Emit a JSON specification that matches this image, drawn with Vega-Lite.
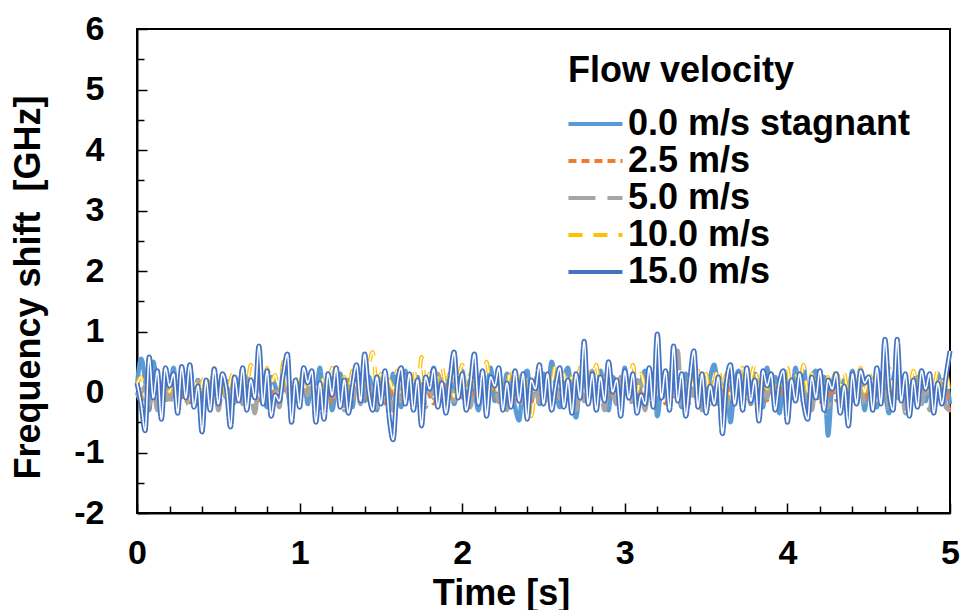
{
"$schema": "https://vega.github.io/schema/vega-lite/v6.json",
"width": 813, "height": 484,
"autosize": {"type": "none"},
"padding": {"left": 137, "top": 29, "right": 10, "bottom": 97},
"config": {
 "view": {"stroke": "black", "strokeWidth": 2},
 "font": "Liberation Sans",
 "axis": {"domainColor": "black", "domainWidth": 2, "tickColor": "black", "tickWidth": 1.5, "labelFont": "Liberation Sans", "labelFontSize": 34, "labelFontWeight": "bold", "labelColor": "black", "titleFont": "Liberation Sans", "titleFontSize": 36, "titleFontWeight": "bold", "titleColor": "black", "grid": false, "labelOverlap": false, "labelFlush": false},
 "legend": {"labelFont": "Liberation Sans", "titleFont": "Liberation Sans"}
},
"data": {"values": [
{"t":0,"a":0.1,"b":-0.05,"c":0.0,"d":0.12,"e":0.15},
{"t":0.025,"a":0.55,"b":0.05,"c":-0.15,"d":0.25,"e":-0.2},
{"t":0.05,"a":0.2,"b":-0.12,"c":0.1,"d":-0.1,"e":-0.64},
{"t":0.075,"a":-0.3,"b":-0.25,"c":-0.2,"d":0.3,"e":0.58},
{"t":0.1,"a":0.5,"b":0.02,"c":0.12,"d":0.05,"e":-0.1},
{"t":0.125,"a":0.1,"b":-0.15,"c":-0.3,"d":0.2,"e":0.35},
{"t":0.15,"a":-0.2,"b":0.08,"c":0.05,"d":-0.15,"e":-0.45},
{"t":0.175,"a":0.35,"b":-0.2,"c":0.2,"d":0.32,"e":0.4},
{"t":0.2,"a":0.05,"b":0.1,"c":-0.25,"d":0.0,"e":0.1},
{"t":0.225,"a":0.4,"b":-0.08,"c":0.1,"d":0.28,"e":0.3},
{"t":0.25,"a":-0.25,"b":0.12,"c":-0.1,"d":0.1,"e":-0.35},
{"t":0.275,"a":0.3,"b":-0.1,"c":0.25,"d":-0.05,"e":0.42},
{"t":0.3,"a":0.0,"b":0.05,"c":-0.2,"d":0.35,"e":-0.1},
{"t":0.325,"a":0.42,"b":-0.18,"c":0.15,"d":0.05,"e":0.45},
{"t":0.35,"a":-0.1,"b":0.0,"c":-0.05,"d":0.22,"e":-0.25},
{"t":0.375,"a":0.2,"b":-0.12,"c":0.18,"d":-0.12,"e":0.1},
{"t":0.4,"a":-0.3,"b":0.06,"c":-0.28,"d":0.15,"e":-0.66},
{"t":0.425,"a":0.15,"b":-0.05,"c":0.1,"d":0.3,"e":0.2},
{"t":0.45,"a":-0.05,"b":-0.2,"c":-0.15,"d":0.0,"e":-0.3},
{"t":0.475,"a":0.3,"b":0.1,"c":0.22,"d":0.4,"e":0.38},
{"t":0.5,"a":-0.15,"b":-0.08,"c":-0.3,"d":0.1,"e":-0.2},
{"t":0.525,"a":0.25,"b":0.04,"c":0.05,"d":0.28,"e":0.3},
{"t":0.55,"a":0.0,"b":-0.15,"c":-0.1,"d":-0.08,"e":0.05},
{"t":0.575,"a":-0.35,"b":0.0,"c":0.3,"d":0.2,"e":-0.58},
{"t":0.6,"a":0.2,"b":-0.1,"c":-0.18,"d":0.35,"e":0.25},
{"t":0.625,"a":0.05,"b":0.08,"c":0.12,"d":0.0,"e":-0.15},
{"t":0.65,"a":0.38,"b":-0.2,"c":-0.2,"d":0.25,"e":0.4},
{"t":0.675,"a":-0.2,"b":0.05,"c":0.25,"d":0.1,"e":-0.3},
{"t":0.7,"a":0.15,"b":-0.06,"c":0.0,"d":0.45,"e":0.2},
{"t":0.725,"a":-0.1,"b":0.1,"c":-0.35,"d":0.05,"e":-0.1},
{"t":0.75,"a":0.3,"b":-0.15,"c":0.15,"d":0.3,"e":0.76},
{"t":0.775,"a":0.0,"b":0.02,"c":-0.1,"d":-0.1,"e":-0.2},
{"t":0.8,"a":-0.25,"b":-0.1,"c":0.2,"d":0.4,"e":0.35},
{"t":0.825,"a":0.25,"b":0.08,"c":-0.15,"d":0.15,"e":-0.4},
{"t":0.85,"a":0.1,"b":-0.18,"c":0.1,"d":0.28,"e":-0.05},
{"t":0.875,"a":-0.15,"b":0.05,"c":-0.25,"d":-0.05,"e":-0.15},
{"t":0.9,"a":0.35,"b":-0.05,"c":0.22,"d":0.5,"e":0.3},
{"t":0.925,"a":0.05,"b":0.12,"c":0.0,"d":0.1,"e":0.63},
{"t":0.95,"a":-0.3,"b":-0.12,"c":-0.3,"d":0.25,"e":-0.5},
{"t":0.975,"a":0.2,"b":0.0,"c":0.15,"d":-0.1,"e":0.2},
{"t":1.0,"a":-0.05,"b":-0.2,"c":-0.1,"d":0.35,"e":-0.25},
{"t":1.025,"a":0.3,"b":0.08,"c":0.28,"d":0.15,"e":0.4},
{"t":1.05,"a":-0.2,"b":-0.08,"c":-0.05,"d":0.0,"e":0.15},
{"t":1.075,"a":0.15,"b":0.1,"c":0.2,"d":0.3,"e":0.35},
{"t":1.1,"a":0.0,"b":-0.15,"c":-0.25,"d":0.12,"e":-0.5},
{"t":1.125,"a":0.4,"b":0.05,"c":0.1,"d":-0.15,"e":0.15},
{"t":1.15,"a":-0.15,"b":-0.1,"c":-0.15,"d":0.28,"e":-0.45},
{"t":1.175,"a":0.25,"b":0.06,"c":0.3,"d":0.05,"e":0.3},
{"t":1.2,"a":-0.3,"b":-0.2,"c":0.0,"d":0.4,"e":-0.05},
{"t":1.225,"a":0.1,"b":0.0,"c":-0.2,"d":0.1,"e":0.4},
{"t":1.25,"a":0.3,"b":-0.12,"c":0.12,"d":-0.05,"e":-0.25},
{"t":1.275,"a":-0.1,"b":0.1,"c":-0.3,"d":0.25,"e":0.2},
{"t":1.3,"a":0.2,"b":-0.05,"c":0.2,"d":0.0,"e":-0.35},
{"t":1.325,"a":-0.25,"b":-0.18,"c":-0.1,"d":0.35,"e":0.1},
{"t":1.35,"a":0.35,"b":0.04,"c":0.15,"d":0.1,"e":0.45},
{"t":1.375,"a":0.05,"b":-0.1,"c":-0.2,"d":0.3,"e":-0.15},
{"t":1.4,"a":-0.15,"b":0.08,"c":0.25,"d":0.15,"e":0.63},
{"t":1.425,"a":0.25,"b":-0.15,"c":-0.05,"d":0.45,"e":0.0},
{"t":1.45,"a":0.0,"b":0.0,"c":0.1,"d":0.66,"e":-0.3},
{"t":1.475,"a":-0.3,"b":-0.12,"c":-0.25,"d":0.1,"e":0.25},
{"t":1.5,"a":0.2,"b":0.06,"c":0.2,"d":0.3,"e":-0.2},
{"t":1.525,"a":0.1,"b":-0.2,"c":-0.1,"d":-0.1,"e":0.35},
{"t":1.55,"a":-0.2,"b":0.1,"c":0.05,"d":0.2,"e":-0.4},
{"t":1.575,"a":0.3,"b":-0.05,"c":-0.3,"d":0.05,"e":-0.79},
{"t":1.6,"a":0.05,"b":-0.15,"c":0.15,"d":0.35,"e":0.1},
{"t":1.625,"a":-0.25,"b":0.05,"c":-0.15,"d":0.0,"e":0.4},
{"t":1.65,"a":0.35,"b":-0.1,"c":0.25,"d":0.25,"e":-0.2},
{"t":1.675,"a":0.0,"b":0.08,"c":-0.2,"d":0.1,"e":0.3},
{"t":1.7,"a":-0.1,"b":-0.18,"c":0.1,"d":0.4,"e":-0.3},
{"t":1.725,"a":0.25,"b":0.02,"c":-0.05,"d":-0.05,"e":0.2},
{"t":1.75,"a":-0.3,"b":-0.1,"c":0.2,"d":0.58,"e":-0.56},
{"t":1.775,"a":0.15,"b":0.1,"c":-0.25,"d":0.1,"e":0.25},
{"t":1.8,"a":0.05,"b":-0.08,"c":0.15,"d":0.3,"e":0.05},
{"t":1.825,"a":0.4,"b":-0.2,"c":-0.1,"d":0.0,"e":0.38},
{"t":1.85,"a":-0.15,"b":0.05,"c":0.3,"d":0.25,"e":-0.25},
{"t":1.875,"a":0.2,"b":-0.1,"c":0.0,"d":0.4,"e":0.15},
{"t":1.9,"a":-0.05,"b":0.1,"c":-0.3,"d":0.1,"e":-0.35},
{"t":1.925,"a":0.3,"b":-0.05,"c":0.1,"d":0.3,"e":0.2},
{"t":1.95,"a":-0.2,"b":-0.15,"c":-0.15,"d":-0.08,"e":0.66},
{"t":1.975,"a":0.1,"b":0.05,"c":0.25,"d":0.2,"e":-0.1},
{"t":2.0,"a":0.35,"b":-0.1,"c":-0.05,"d":0.45,"e":0.3},
{"t":2.025,"a":-0.1,"b":0.08,"c":0.15,"d":0.05,"e":-0.3},
{"t":2.05,"a":0.2,"b":-0.2,"c":-0.25,"d":0.3,"e":0.1},
{"t":2.075,"a":0.0,"b":0.0,"c":0.2,"d":0.0,"e":0.63},
{"t":2.1,"a":-0.3,"b":-0.1,"c":-0.1,"d":0.35,"e":-0.2},
{"t":2.125,"a":0.25,"b":0.06,"c":0.3,"d":0.15,"e":0.35},
{"t":2.15,"a":0.05,"b":-0.15,"c":-0.2,"d":0.5,"e":-0.4},
{"t":2.175,"a":0.4,"b":0.1,"c":0.05,"d":0.05,"e":0.25},
{"t":2.2,"a":-0.15,"b":-0.05,"c":0.2,"d":0.3,"e":0.1},
{"t":2.225,"a":0.15,"b":-0.18,"c":-0.15,"d":-0.1,"e":0.4},
{"t":2.25,"a":-0.05,"b":0.05,"c":0.1,"d":0.25,"e":-0.3},
{"t":2.275,"a":0.3,"b":-0.1,"c":-0.3,"d":0.1,"e":0.15},
{"t":2.3,"a":0.1,"b":0.08,"c":0.15,"d":0.4,"e":-0.25},
{"t":2.325,"a":-0.25,"b":-0.15,"c":-0.05,"d":0.0,"e":0.35},
{"t":2.35,"a":-0.47,"b":0.0,"c":0.25,"d":0.3,"e":-0.15},
{"t":2.375,"a":0.2,"b":-0.1,"c":-0.2,"d":-0.15,"e":0.3},
{"t":2.4,"a":0.35,"b":0.06,"c":0.1,"d":0.2,"e":-0.45},
{"t":2.425,"a":-0.1,"b":-0.2,"c":-0.1,"d":-0.4,"e":0.2},
{"t":2.45,"a":0.15,"b":0.05,"c":0.3,"d":0.1,"e":0.05},
{"t":2.475,"a":-0.2,"b":-0.08,"c":-0.25,"d":0.35,"e":0.45},
{"t":2.5,"a":0.3,"b":0.1,"c":0.05,"d":0.0,"e":-0.2},
{"t":2.525,"a":0.0,"b":-0.15,"c":0.2,"d":0.3,"e":0.3},
{"t":2.55,"a":0.5,"b":0.0,"c":-0.3,"d":0.15,"e":-0.3},
{"t":2.575,"a":0.1,"b":-0.1,"c":0.1,"d":0.45,"e":0.1},
{"t":2.6,"a":-0.25,"b":0.08,"c":-0.1,"d":0.05,"e":0.4},
{"t":2.625,"a":0.2,"b":-0.18,"c":0.25,"d":0.3,"e":-0.25},
{"t":2.65,"a":0.4,"b":0.05,"c":-0.05,"d":-0.1,"e":0.2},
{"t":2.675,"a":-0.1,"b":-0.05,"c":0.15,"d":0.25,"e":-0.35},
{"t":2.7,"a":-0.42,"b":0.1,"c":-0.3,"d":0.1,"e":0.3},
{"t":2.725,"a":0.15,"b":-0.12,"c":0.1,"d":0.4,"e":-0.1},
{"t":2.75,"a":0.3,"b":0.0,"c":-0.15,"d":0.0,"e":0.84},
{"t":2.775,"a":-0.05,"b":-0.15,"c":0.2,"d":0.3,"e":-0.2},
{"t":2.8,"a":0.2,"b":0.06,"c":0.35,"d":0.15,"e":0.3},
{"t":2.825,"a":-0.2,"b":-0.1,"c":-0.2,"d":0.45,"e":-0.3},
{"t":2.85,"a":0.35,"b":0.1,"c":0.1,"d":-0.05,"e":0.25},
{"t":2.875,"a":0.0,"b":-0.2,"c":-0.3,"d":0.2,"e":-0.15},
{"t":2.9,"a":-0.3,"b":0.0,"c":0.15,"d":0.35,"e":0.5},
{"t":2.925,"a":0.25,"b":-0.08,"c":0.0,"d":0.05,"e":0.0},
{"t":2.95,"a":0.1,"b":0.08,"c":-0.2,"d":0.3,"e":0.2},
{"t":2.975,"a":-0.15,"b":-0.15,"c":0.25,"d":-0.15,"e":-0.4},
{"t":3.0,"a":0.4,"b":0.05,"c":-0.1,"d":0.25,"e":0.35},
{"t":3.025,"a":-0.1,"b":-0.1,"c":0.15,"d":0.1,"e":-0.1},
{"t":3.05,"a":0.2,"b":0.1,"c":-0.25,"d":0.45,"e":0.3},
{"t":3.075,"a":-0.3,"b":-0.18,"c":0.2,"d":0.0,"e":-0.35},
{"t":3.1,"a":0.15,"b":0.0,"c":0.05,"d":0.3,"e":-0.05},
{"t":3.125,"a":0.35,"b":-0.1,"c":-0.3,"d":0.1,"e":-0.2},
{"t":3.15,"a":-0.05,"b":0.08,"c":0.2,"d":0.4,"e":0.4},
{"t":3.175,"a":0.25,"b":-0.15,"c":-0.1,"d":-0.1,"e":-0.25},
{"t":3.2,"a":-0.4,"b":0.05,"c":0.3,"d":0.2,"e":0.96},
{"t":3.225,"a":0.1,"b":-0.05,"c":-0.15,"d":0.35,"e":-0.1},
{"t":3.25,"a":0.3,"b":-0.2,"c":0.1,"d":0.0,"e":0.35},
{"t":3.275,"a":-0.15,"b":0.1,"c":0.4,"d":0.25,"e":-0.3},
{"t":3.3,"a":0.2,"b":-0.08,"c":0.1,"d":0.45,"e":0.76},
{"t":3.325,"a":0.05,"b":0.05,"c":0.68,"d":0.1,"e":-0.15},
{"t":3.35,"a":-0.25,"b":-0.15,"c":-0.2,"d":0.3,"e":0.3},
{"t":3.375,"a":0.3,"b":0.0,"c":0.15,"d":-0.15,"e":-0.4},
{"t":3.4,"a":0.0,"b":-0.1,"c":-0.25,"d":0.25,"e":0.2},
{"t":3.425,"a":0.35,"b":0.08,"c":0.05,"d":0.05,"e":0.68},
{"t":3.45,"a":-0.2,"b":-0.2,"c":0.2,"d":0.35,"e":-0.25},
{"t":3.475,"a":0.15,"b":0.0,"c":-0.3,"d":0.0,"e":0.3},
{"t":3.5,"a":-0.1,"b":-0.1,"c":0.1,"d":0.3,"e":-0.35},
{"t":3.525,"a":0.25,"b":0.1,"c":-0.1,"d":-0.2,"e":0.1},
{"t":3.55,"a":0.45,"b":-0.05,"c":0.2,"d":0.15,"e":-0.2},
{"t":3.575,"a":0.0,"b":-0.18,"c":-0.2,"d":0.4,"e":0.25},
{"t":3.6,"a":-0.3,"b":0.05,"c":0.1,"d":0.05,"e":-0.69},
{"t":3.625,"a":0.2,"b":-0.1,"c":-0.25,"d":0.3,"e":0.15},
{"t":3.65,"a":-0.5,"b":0.08,"c":0.15,"d":-0.05,"e":0.45},
{"t":3.675,"a":0.1,"b":-0.15,"c":-0.05,"d":0.25,"e":-0.2},
{"t":3.7,"a":0.35,"b":0.0,"c":0.25,"d":0.1,"e":0.3},
{"t":3.725,"a":-0.1,"b":-0.1,"c":-0.3,"d":0.4,"e":-0.3},
{"t":3.75,"a":0.2,"b":0.1,"c":0.1,"d":-0.1,"e":0.4},
{"t":3.775,"a":-0.2,"b":-0.2,"c":-0.15,"d":0.2,"e":-0.15},
{"t":3.8,"a":0.3,"b":0.05,"c":0.2,"d":0.45,"e":0.2},
{"t":3.825,"a":0.05,"b":-0.08,"c":-0.35,"d":0.0,"e":-0.48},
{"t":3.85,"a":-0.25,"b":0.08,"c":0.1,"d":0.3,"e":0.35},
{"t":3.875,"a":0.4,"b":-0.15,"c":-0.1,"d":0.05,"e":0.1},
{"t":3.9,"a":0.0,"b":0.0,"c":0.25,"d":0.35,"e":0.3},
{"t":3.925,"a":0.25,"b":-0.1,"c":-0.2,"d":-0.1,"e":-0.3},
{"t":3.95,"a":-0.35,"b":0.1,"c":0.05,"d":0.25,"e":0.15},
{"t":3.975,"a":0.15,"b":-0.05,"c":0.2,"d":0.1,"e":0.35},
{"t":4.0,"a":0.3,"b":-0.2,"c":-0.3,"d":0.4,"e":-0.5},
{"t":4.025,"a":-0.1,"b":0.05,"c":0.1,"d":-0.05,"e":0.2},
{"t":4.05,"a":0.4,"b":-0.1,"c":-0.1,"d":0.3,"e":-0.15},
{"t":4.075,"a":0.05,"b":0.1,"c":0.25,"d":0.1,"e":0.3},
{"t":4.1,"a":0.42,"b":-0.15,"c":-0.2,"d":0.45,"e":-0.2},
{"t":4.125,"a":-0.2,"b":0.0,"c":0.1,"d":0.0,"e":-0.45},
{"t":4.15,"a":0.2,"b":-0.08,"c":-0.3,"d":0.3,"e":0.25},
{"t":4.175,"a":0.35,"b":0.08,"c":0.15,"d":0.1,"e":-0.1},
{"t":4.2,"a":-0.1,"b":-0.2,"c":-0.1,"d":0.35,"e":0.35},
{"t":4.225,"a":0.25,"b":0.05,"c":0.2,"d":-0.1,"e":-0.3},
{"t":4.25,"a":-0.72,"b":-0.1,"c":-0.25,"d":0.25,"e":0.2},
{"t":4.275,"a":0.1,"b":0.1,"c":0.05,"d":0.05,"e":0.05},
{"t":4.3,"a":0.3,"b":-0.15,"c":0.3,"d":0.4,"e":0.3},
{"t":4.325,"a":-0.15,"b":0.0,"c":-0.2,"d":0.1,"e":-0.35},
{"t":4.35,"a":0.2,"b":-0.1,"c":0.1,"d":0.3,"e":0.1},
{"t":4.375,"a":0.0,"b":0.08,"c":-0.3,"d":-0.05,"e":-0.56},
{"t":4.4,"a":0.35,"b":-0.18,"c":0.2,"d":0.35,"e":0.3},
{"t":4.425,"a":-0.2,"b":0.05,"c":-0.05,"d":0.1,"e":-0.2},
{"t":4.45,"a":0.15,"b":-0.05,"c":0.25,"d":0.4,"e":0.35},
{"t":4.475,"a":-0.3,"b":-0.15,"c":-0.2,"d":0.0,"e":0.15},
{"t":4.5,"a":0.25,"b":0.1,"c":0.1,"d":0.3,"e":0.25},
{"t":4.525,"a":0.05,"b":-0.1,"c":-0.3,"d":0.15,"e":-0.3},
{"t":4.55,"a":-0.25,"b":0.0,"c":0.15,"d":-0.15,"e":0.4},
{"t":4.575,"a":0.3,"b":-0.2,"c":-0.1,"d":0.3,"e":-0.2},
{"t":4.6,"a":0.0,"b":0.05,"c":0.3,"d":0.1,"e":0.87},
{"t":4.625,"a":-0.35,"b":-0.1,"c":-0.25,"d":0.4,"e":0.0},
{"t":4.65,"a":0.2,"b":0.08,"c":0.1,"d":0.05,"e":-0.3},
{"t":4.675,"a":0.4,"b":-0.15,"c":-0.1,"d":0.3,"e":0.87},
{"t":4.7,"a":-0.1,"b":0.0,"c":0.2,"d":-0.1,"e":-0.15},
{"t":4.725,"a":0.15,"b":-0.1,"c":-0.35,"d":0.25,"e":0.3},
{"t":4.75,"a":-0.3,"b":0.1,"c":0.1,"d":0.0,"e":-0.4},
{"t":4.775,"a":0.25,"b":-0.05,"c":-0.15,"d":0.35,"e":0.2},
{"t":4.8,"a":0.05,"b":-0.2,"c":0.25,"d":0.1,"e":-0.25},
{"t":4.825,"a":0.35,"b":0.05,"c":-0.2,"d":0.4,"e":0.35},
{"t":4.85,"a":-0.15,"b":-0.1,"c":0.05,"d":-0.05,"e":0.05},
{"t":4.875,"a":0.2,"b":0.08,"c":-0.3,"d":0.25,"e":0.3},
{"t":4.9,"a":-0.25,"b":-0.15,"c":0.15,"d":0.1,"e":-0.35},
{"t":4.925,"a":0.3,"b":0.0,"c":-0.1,"d":0.35,"e":0.15},
{"t":4.95,"a":0.0,"b":-0.1,"c":0.2,"d":-0.15,"e":-0.2},
{"t":4.975,"a":0.15,"b":0.05,"c":-0.25,"d":0.3,"e":0.25},
{"t":5.0,"a":-0.2,"b":-0.4,"c":-0.3,"d":-0.1,"e":0.68}
]},
"transform": [{"fold": ["a", "b", "c", "d", "e"], "as": ["s", "v"]}],
"encoding": {
 "x": {"field": "t", "type": "quantitative", "scale": {"domain": [0, 5], "nice": false},
  "axis": {"title": "Time [s]", "values": [0,0.2,0.4,0.6,0.8,1,1.2,1.4,1.6,1.8,2,2.2,2.4,2.6,2.8,3,3.2,3.4,3.6,3.8,4,4.2,4.4,4.6,4.8,5],
   "labelExpr": "datum.value == round(datum.value) ? '' + datum.value : ''",
   "tickSize": {"condition": {"test": "datum.value == round(datum.value)", "value": -10}, "value": -7},
   "labelPadding": 33, "titleX": 364, "titleY": 91, "titleBaseline": "alphabetic", "titleAlign": "center"}},
 "y": {"field": "v", "type": "quantitative", "scale": {"domain": [-2, 6], "nice": false},
  "axis": {"title": "Frequency shift \u00a0[GHz]", "values": [-2,-1.5,-1,-0.5,0,0.5,1,1.5,2,2.5,3,3.5,4,4.5,5,5.5,6],
   "labelExpr": "datum.value == round(datum.value) ? '' + datum.value : ''",
   "tickSize": {"condition": {"test": "datum.value == round(datum.value)", "value": -10}, "value": -7},
   "labelPadding": 43, "titleX": -98, "titleY": 258, "titleBaseline": "alphabetic", "titleAlign": "center"}},
 "color": {"field": "s", "type": "nominal",
  "scale": {"domain": ["a", "b", "c", "d", "e"], "range": ["#5B9BD5", "#ED7D31", "#A5A5A5", "#FFC000", "#4472C4"]},
  "legend": {"title": "Flow velocity", "orient": "none", "legendX": 431, "legendY": 25,
   "labelExpr": "datum.value=='a'?'0.0 m/s stagnant':datum.value=='b'?'2.5 m/s':datum.value=='c'?'5.0 m/s':datum.value=='d'?'10.0 m/s':'15.0 m/s'",
   "titleFontSize": 36, "titleFontWeight": "bold", "titleColor": "black", "titleLimit": 500, "labelFontSize": 36, "labelFontWeight": "bold", "labelColor": "black", "labelLimit": 500,
   "symbolType": "M-1.3,0H2.7", "symbolSize": 729, "symbolStrokeWidth": 4, "labelOffset": 24, "titlePadding": 16, "rowPadding": 1}},
 "strokeDash": {"field": "s", "type": "nominal",
  "scale": {"domain": ["a", "b", "c", "d", "e"], "range": [[1, 0], [8, 5], [27, 12], [14, 11], [1, 0]]},
  "legend": {"title": "Flow velocity", "orient": "none", "legendX": 431, "legendY": 25,
   "labelExpr": "datum.value=='a'?'0.0 m/s stagnant':datum.value=='b'?'2.5 m/s':datum.value=='c'?'5.0 m/s':datum.value=='d'?'10.0 m/s':'15.0 m/s'",
   "titleFontSize": 36, "titleFontWeight": "bold", "titleColor": "black", "titleLimit": 500, "labelFontSize": 36, "labelFontWeight": "bold", "labelColor": "black", "labelLimit": 500,
   "symbolType": "M-1.3,0H2.7", "symbolSize": 729, "symbolStrokeWidth": 4, "labelOffset": 24, "titlePadding": 16, "rowPadding": 1}}
},
"layer": [
 {"transform": [{"filter": "datum.s == 'a'"}], "mark": {"type": "line", "strokeWidth": 4.5, "interpolate": "monotone"}},
 {"transform": [{"filter": "datum.s == 'b'"}], "mark": {"type": "line", "strokeWidth": 3, "interpolate": "monotone"}},
 {"transform": [{"filter": "datum.s == 'c'"}], "mark": {"type": "line", "strokeWidth": 4.5, "interpolate": "monotone"}},
 {"transform": [{"filter": "datum.s == 'd'"}], "mark": {"type": "line", "strokeWidth": 4, "interpolate": "monotone"}},
 {"transform": [{"filter": "datum.s == 'd'"}], "mark": {"type": "line", "strokeWidth": 1.5, "interpolate": "monotone"},
  "encoding": {"color": {"value": "white"}, "strokeDash": {"value": [14, 11]}}},
 {"transform": [{"filter": "datum.s == 'e'"}], "mark": {"type": "line", "strokeWidth": 5, "interpolate": "monotone"}},
 {"transform": [{"filter": "datum.s == 'e'"}], "mark": {"type": "line", "strokeWidth": 1.5, "interpolate": "monotone"},
  "encoding": {"color": {"value": "white"}, "strokeDash": {"value": [1, 0]}}}
]
}
